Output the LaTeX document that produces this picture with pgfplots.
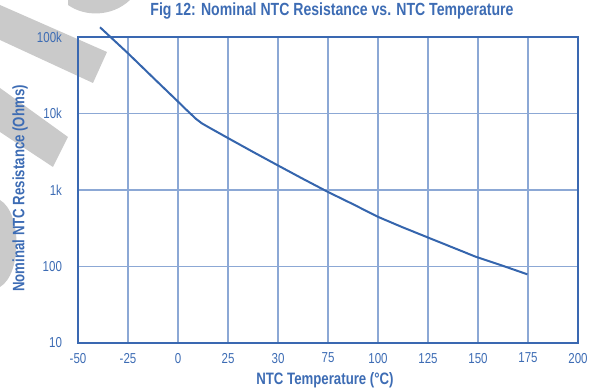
\documentclass[border=0pt]{standalone}
\usepackage{pgfplots}
\pgfplotsset{compat=1.18}
\usepackage{fontspec}
\setmainfont{Liberation Sans}[FakeStretch=0.8]
\definecolor{txc}{HTML}{3D6CB4}
\definecolor{axc}{HTML}{3A68B1}
\definecolor{gridc}{HTML}{8CA8D5}
\definecolor{crv}{HTML}{3565AD}
\definecolor{wm}{HTML}{CACACA}
\begin{document}
\begin{tikzpicture}
\useasboundingbox (0,0) rectangle (444.75pt,294pt);
\begin{scope}[yshift=294pt,x=0.75pt,y=-0.75pt]
\fill[wm] (0,5) -- (107,52) -- (93,83) -- (0,40) -- cycle;
\fill[wm] (0,88) -- (68,137) -- (53,167) -- (0,132) -- cycle;
\fill[wm] (68,0) -- (68,5) .. controls (85,17) and (112,17) .. (130,0) -- cycle;
\fill[wm] (0,200) .. controls (22,213) and (22,274) .. (0,287) -- cycle;
\end{scope}
\begin{axis}[
 at={(58.5pt,36.75pt)}, anchor=south west,
 scale only axis, width=375pt, height=229.5pt,
 xmin=-50, xmax=200, ymin=10, ymax=100000, ymode=log,
 xtick={-50,-25,...,200},
 xticklabels={-50,-25,0,25,30,75,100,125,150,175,200},
 ytick={10,100,1000,10000,100000},
 yticklabels={10,100,1k,10k,100k},
 minor ytick={},
 grid=major,
 major grid style={color=gridc, line width=1pt},
 axis line style={color=axc, line width=1.6pt},
 major tick length=0pt,
 tick style={draw=none},
 ticklabel style={color=txc, font=\fontsize{10.8}{12}\selectfont},
 xticklabel style={yshift=-4pt},
 yticklabel style={xshift=-8.5pt},
 xlabel={\textbf{NTC Temperature (°C)}},
 ylabel={\textbf{Nominal NTC Resistance (Ohms)}},
 label style={color=txc, font=\fontsize{12.4}{14}\selectfont},
 xlabel style={at={(axis description cs:0.494,0)}, anchor=center, yshift=-27.75pt},
 ylabel style={at={(axis description cs:-0.116,0.505)}, anchor=center},
 title={\textbf{Fig 12: Nominal NTC Resistance vs. NTC Temperature}},
 title style={color=txc, font=\fontsize{13.2}{16}\selectfont, at={(axis description cs:0.508,1)}, anchor=base, yshift=9.75pt},
 clip=false,
]
\addplot[color=crv, line width=1.5pt] coordinates {
(-39,134000) (-25,61200) (-12.5,29500) (0,14300) (4,11300) (7,9530) (9,8500) (12,7410) (16,6460)
(25.2,4740) (37,3200) (49.6,2120) (62,1420) (75,942) (87.5,652) (99.8,448) (112,328) (124,245) (136.5,181) (148.9,134) (162,103) (174.7,79)
};
\end{axis}
\end{tikzpicture}
\end{document}
